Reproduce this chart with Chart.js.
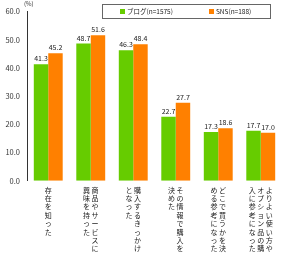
<!DOCTYPE html>
<html>
<head>
<meta charset="utf-8">
<script src="https://cdn.jsdelivr.net/npm/chart.js@4"></script>
<style>
  html, body { margin: 0; padding: 0; background: #fff; }
  #wrap { width: 290px; height: 259px; }
</style>
</head>
<body>
<div id="wrap"><canvas id="chart" width="290" height="259"></canvas></div>
<script>
// 縦書きラベル(右の列から読む)
const categories = [
    ['存在を知った'],
    ['商品やサービスに', '興味を持った'],
    ['購入するきっかけ', 'となった'],
    ['その情報で購入を', '決めた'],
    ['どこで買うかを決', 'める参考になった'],
    ['よりよい使い方や', 'オプション品の購', '入に参考になった']
];
const blogValues = [41.3, 48.7, 46.3, 22.7, 17.3, 17.7];
const snsValues = [45.2, 51.6, 48.4, 27.7, 18.6, 17.0];
const seriesNames = ['ブログ(n=1575)', 'SNS(n=188)'];
const yTicks = [0, 10, 20, 30, 40, 50, 60];

const FONT = '"Noto Sans CJK JP", "Noto Sans", sans-serif';

// 縦書きを横の行に組み替える
function verticalRows(cols) {
    const order = cols.slice().reverse();
    const n = Math.max(...order.map(c => [...c].length));
    const rows = [];
    for (let i = 0; i < n; i++) {
        rows.push(order.map(c => [...c][i] || '　').join(' '));
    }
    return rows;
}
const labels = categories.map(verticalRows);

// 数値ラベル、凡例、(%)
const extras = {
    id: 'extras',
    afterDatasetsDraw(chart) {
        const ctx = chart.ctx;
        ctx.save();
        ctx.font = '7px ' + FONT;
        ctx.fillStyle = '#222';
        ctx.textAlign = 'center';
        ctx.textBaseline = 'bottom';
        chart.data.datasets.forEach((ds, i) => {
            chart.getDatasetMeta(i).data.forEach((bar, j) => {
                ctx.fillText(ds.data[j].toFixed(1), bar.x, bar.y - 2);
            });
        });
        ctx.restore();
    },
    afterDraw(chart) {
        const ctx = chart.ctx;
        ctx.save();
        // (%)
        ctx.font = '6px ' + FONT;
        ctx.fillStyle = '#333';
        ctx.textAlign = 'left';
        ctx.textBaseline = 'middle';
        ctx.fillText('(%)', 24, 4);
        // 凡例の枠
        ctx.fillStyle = '#fff';
        ctx.fillRect(102.5, 4.5, 168, 14);
        ctx.strokeStyle = '#666';
        ctx.lineWidth = 1;
        ctx.strokeRect(102.5, 4.5, 168, 14);
        ctx.font = '6.5px ' + FONT;
        const items = [
            { x: 120, color: chart.data.datasets[0].backgroundColor, text: seriesNames[0] },
            { x: 209, color: chart.data.datasets[1].backgroundColor, text: seriesNames[1] }
        ];
        items.forEach(it => {
            ctx.fillStyle = it.color;
            ctx.fillRect(it.x, 9, 5, 5);
            ctx.fillStyle = '#222';
            ctx.fillText(it.text, it.x + 7, 12);
        });
        ctx.restore();
    }
};

new Chart(document.getElementById('chart'), {
    type: 'bar',
    data: {
        labels: labels,
        datasets: [
            { label: seriesNames[0], data: blogValues, backgroundColor: '#66cc00' },
            { label: seriesNames[1], data: snsValues, backgroundColor: '#ff8000' }
        ]
    },
    options: {
        responsive: false,
        animation: false,
        layout: { padding: { top: 9, right: 8, left: 0, bottom: 1 } },
        datasets: { bar: { categoryPercentage: 0.68, barPercentage: 1.0 } },
        scales: {
            y: {
                min: 0,
                max: 60,
                afterBuildTicks: axis => { axis.ticks = yTicks.map(v => ({ value: v })); },
                afterFit: axis => { axis.width = 27; },
                grid: { display: false, drawTicks: false },
                border: { display: true, color: '#333', width: 1 },
                ticks: {
                    padding: 7,
                    color: '#333',
                    font: { family: FONT, size: 7.5 },
                    callback: v => v.toFixed(1)
                }
            },
            x: {
                grid: { display: false, drawTicks: false },
                border: { display: false },
                ticks: {
                    autoSkip: false,
                    maxRotation: 0,
                    minRotation: 0,
                    padding: 5,
                    color: '#222',
                    font: { family: FONT, size: 7, lineHeight: '8.4px' }
                }
            }
        },
        plugins: {
            legend: { display: false },
            tooltip: { enabled: false }
        }
    },
    plugins: [extras]
});
</script>
</body>
</html>
